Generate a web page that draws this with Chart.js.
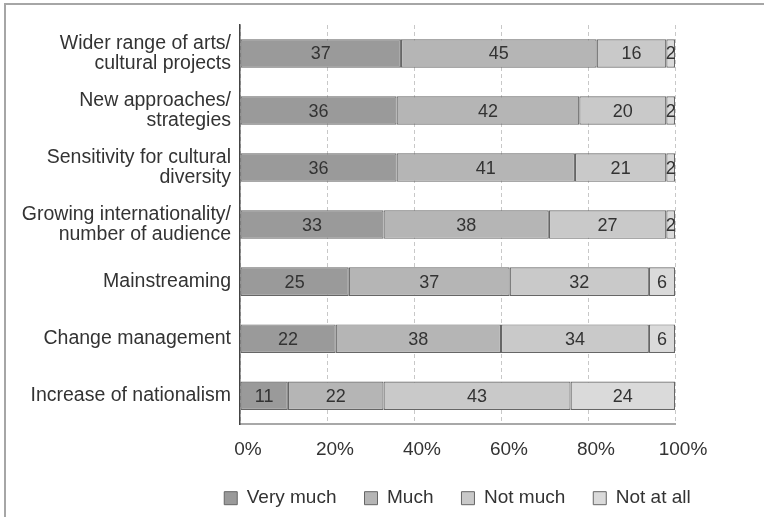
<!DOCTYPE html>
<html lang="en">
<head>
  <meta charset="UTF-8" />
  <title>Impact of cultural work</title>
  <script src="https://cdn.jsdelivr.net/npm/chart.js"></script>
<style>
  html, body {
    margin: 0;
    padding: 0;
    background: #fff;
    overflow: hidden;
  }
  .frame {
    position: absolute;
    left: 4px;
    top: 3px;
    width: 900px;
    height: 600px;
    border-top: 2px solid #a6a6a6;
    border-left: 2px solid #a6a6a6;
  }
  .wrap {
    position: absolute;
    left: 0;
    top: 0;
    width: 764px;
    height: 517px;
    overflow: hidden;
  }
</style>
</head>
<body>
  <div class="frame"></div>
  <div class="wrap">
    <canvas id="impactChart" width="764" height="534"></canvas>
  </div>

<script>
  const categories = [
    ["Wider range of arts/", "cultural projects"],
    ["New approaches/", "strategies"],
    ["Sensitivity for cultural", "diversity"],
    ["Growing internationality/", "number of audience"],
    "Mainstreaming",
    "Change management",
    "Increase of nationalism"
  ];

  const veryMuch = [37, 36, 36, 33, 25, 22, 11];
  const much     = [45, 42, 41, 38, 37, 38, 22];
  const notMuch  = [16, 20, 21, 27, 32, 34, 43];
  const notAtAll = [2, 2, 2, 2, 6, 6, 24];

  const seriesNames = ["Very much", "Much", "Not much", "Not at all"];
  const seriesColors = ["#9a9a9a", "#b5b5b5", "#c9c9c9", "#dadada"];
  const xTicks = [0, 20, 40, 60, 80, 100];

  const labelFont = "'Liberation Sans', Arial, sans-serif";

  // writes each segment's value in the middle of its bar
  const barValues = {
    id: "barValues",
    afterDatasetsDraw(chart) {
      const ctx = chart.ctx;
      ctx.save();
      ctx.font = "18px " + labelFont;
      ctx.fillStyle = "#333";
      ctx.textAlign = "center";
      ctx.textBaseline = "middle";
      chart.data.datasets.forEach((ds, i) => {
        chart.getDatasetMeta(i).data.forEach((bar, j) => {
          const p = bar.getCenterPoint();
          ctx.fillText(String(ds.data[j]), p.x, p.y + 1);
        });
      });
      ctx.restore();
    }
  };

  // legend sits centred under the plot area, a little closer to the axis
  const placeLegend = {
    id: "placeLegend",
    afterLayout(chart) {
      const lg = chart.legend;
      const area = chart.chartArea;
      const dx = (area.left + area.right) / 2 - (lg.left + lg.right) / 2;
      lg.left += dx;
      lg.right += dx;
      const pad = lg.options.labels.padding;
      const rowMid = lg.top + pad + lg.legendHitBoxes[0].height / 2;
      const dy = area.bottom + 74 - rowMid;
      lg.top += dy;
      lg.bottom += dy;
    }
  };

  const datasets = [veryMuch, much, notMuch, notAtAll].map((values, i) => ({
    label: seriesNames[i],
    data: values,
    backgroundColor: seriesColors[i],
    borderColor: "#666",
    borderWidth: 1.2,
    borderSkipped: false,
    barPercentage: 0.5,
    categoryPercentage: 1
  }));

  new Chart(document.getElementById("impactChart"), {
    type: "bar",
    data: { labels: categories, datasets: datasets },
    options: {
      indexAxis: "y",
      responsive: false,
      animation: false,
      layout: { padding: { top: 25, right: 89, left: 0, bottom: 2 } },
      scales: {
        x: {
          stacked: true,
          min: 0,
          max: 100,
          afterBuildTicks(scale) {
            scale.ticks = xTicks.map(v => ({ value: v }));
          },
          grid: {
            color: "#c8c8c8",
            lineWidth: 1,
            drawTicks: false
          },
          border: { color: "#a8a8a8", width: 2, dash: [4, 3] },
          ticks: {
            callback: v => v + "%",
            color: "#333",
            padding: 14,
            labelOffset: 8,
            font: { family: labelFont, size: 19 }
          }
        },
        y: {
          stacked: true,
          afterFit(scale) { scale.width = 240; },
          grid: { display: false, drawTicks: false },
          border: { color: "#444", width: 1.5 },
          ticks: {
            color: "#333",
            padding: 9,
            font: { family: labelFont, size: 19.5, lineHeight: 1.03 }
          }
        }
      },
      plugins: {
        legend: {
          position: "bottom",
          labels: {
            boxWidth: 13,
            boxHeight: 13,
            padding: 28,
            color: "#333",
            font: { family: labelFont, size: 19 },
            generateLabels(chart) {
              return chart.data.datasets.map((ds, i) => ({
                text: ds.label,
                fillStyle: ds.backgroundColor,
                strokeStyle: "#666",
                lineWidth: 1,
                fontColor: "#333",
                datasetIndex: i
              }));
            }
          }
        },
        tooltip: { enabled: false }
      }
    },
    plugins: [barValues, placeLegend]
  });
</script>
</body>
</html>
